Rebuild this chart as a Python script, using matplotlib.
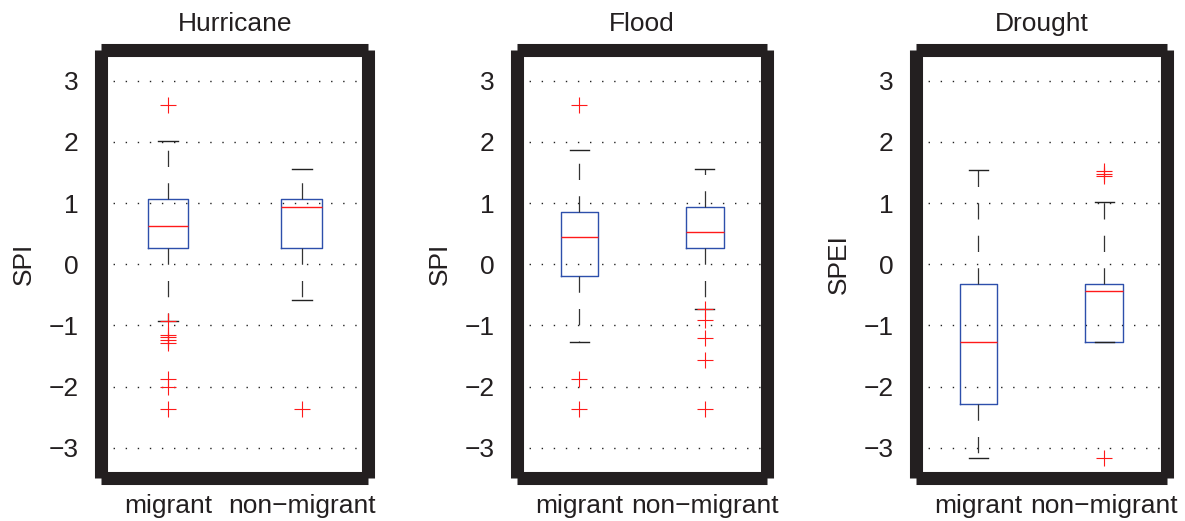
import numpy as np
import matplotlib
matplotlib.use("Agg")
import matplotlib.pyplot as plt

plt.rcParams['font.family'] = ['Liberation Sans', 'DejaVu Sans']

# Box statistics (q1, median, q3, whisker low/high, outliers)
titles = ['Hurricane', 'Flood', 'Drought']
ylabels = ['SPI', 'SPI', 'SPEI']
groups = ['migrant', 'non\u2212migrant']

q1 = [[0.26, 0.26], [-0.20, 0.26], [-2.29, -1.27]]
median = [[0.62, 0.94], [0.45, 0.52], [-1.27, -0.43]]
q3 = [[1.07, 1.07], [0.85, 0.94], [-0.33, -0.33]]
whisk_lo = [[-0.92, -0.59], [-1.27, -0.73], [-3.17, -1.27]]
whisk_hi = [[2.02, 1.56], [1.86, 1.56], [1.54, 1.01]]
outliers = [
    [[2.60, -0.93, -1.15, -1.19, -1.23, -1.28, -1.88, -2.01, -2.37], [-2.36]],
    [[2.60, -1.87, -2.36], [-0.73, -0.91, -1.20, -1.57, -2.36]],
    [[], [1.44, 1.48, 1.52, -3.17]],
]
yticks = [-3, -2, -1, 0, 1, 2, 3]

frame_col = '#231f20'
# axes rectangles in figure fraction
rects = [[0.0852, 0.0816, 0.2257, 0.8225],
         [0.4360, 0.0816, 0.2116, 0.8225],
         [0.7727, 0.0816, 0.2121, 0.8225]]

fig = plt.figure(figsize=(11.85, 5.21), dpi=100)

for i in range(3):
    ax = fig.add_axes(rects[i])
    stats = []
    for j in range(2):
        stats.append(dict(med=median[i][j], q1=q1[i][j], q3=q3[i][j],
                          whislo=whisk_lo[i][j], whishi=whisk_hi[i][j],
                          fliers=outliers[i][j], label=groups[j]))
    ax.bxp(stats, positions=[1, 2], widths=0.3, capwidths=0.15,
           boxprops=dict(color='#2d4fab', linewidth=1.0),
           medianprops=dict(color='#ff1a1a', linewidth=1.0),
           whiskerprops=dict(color='#333333', linewidth=0.9, linestyle=(0, (13, 13))),
           capprops=dict(color='#222222', linewidth=1.0),
           flierprops=dict(marker='+', markeredgecolor='#ff1a1a', markersize=11,
                           markeredgewidth=0.8, linestyle='none'))

    ax.set_xlim(0.5, 2.5)
    ax.set_ylim(-3.5, 3.5)
    ax.set_yticks(yticks)
    ax.yaxis.grid(True, color='#222222', linewidth=1.0, linestyle=(0, (1.0, 7.7)))
    ax.set_axisbelow(True)
    ax.tick_params(axis='both', length=0, labelsize=19, colors=frame_col)
    ax.tick_params(axis='y', pad=16)
    ax.tick_params(axis='x', pad=11)
    for sp in ax.spines.values():
        sp.set_linewidth(9.4)
        sp.set_color(frame_col)
        sp.set_capstyle('butt')
    ax.set_title(titles[i], fontsize=19, pad=14, color=frame_col)
    ax.set_ylabel(ylabels[i], fontsize=19, labelpad=9, color=frame_col)

fig.savefig('out.png', dpi=100)
